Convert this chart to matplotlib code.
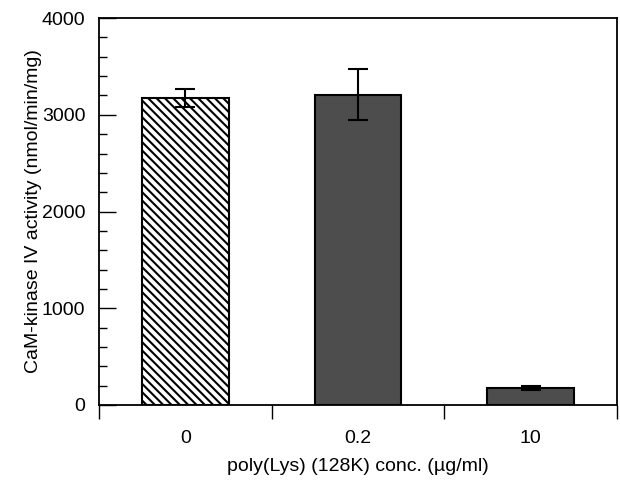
import numpy as np
import matplotlib.pyplot as plt
from matplotlib.ticker import MultipleLocator

plt.rcParams['font.family'] = ['Liberation Sans', 'DejaVu Sans']
plt.rcParams['hatch.linewidth'] = 1.5
plt.rcParams['hatch.color'] = '#3c3c3c'

# dados
categorias = ["0", "0.2", "10"]
atividade = [3175, 3210, 175]
erro = [93, 265, 25]
hachuras = ["\\\\\\\\", "", ""]
cores = ["white", "#4d4d4d", "#4d4d4d"]

fig = plt.figure(figsize=(6.2, 4.83), dpi=100)
ax = fig.add_axes([0.16, 0.1615, 0.835, 0.801])

x = np.arange(len(categorias))
for i in range(len(categorias)):
    ax.bar(x[i], atividade[i], width=0.5, color=cores[i], edgecolor="black",
           linewidth=1.5, hatch=hachuras[i], zorder=2)
ax.errorbar(x, atividade, yerr=erro, fmt="none", ecolor="black",
            elinewidth=1.5, capsize=7, capthick=1.5, zorder=3)

ax.set_xlim(-0.5, 2.5)
ax.set_ylim(0, 4000)
ax.set_xticks(x)
ax.set_xticklabels(categorias)
ax.set_xticks([-0.5, 0.5, 1.5, 2.5], minor=True)
ax.tick_params(axis="x", which="major", length=0, labelsize=14, pad=18)
ax.tick_params(axis="x", which="minor", direction="out", length=10, width=1)

ax.yaxis.set_major_locator(MultipleLocator(1000))
ax.yaxis.set_minor_locator(MultipleLocator(200))
ax.tick_params(axis="y", which="major", direction="in", length=12, width=1,
               labelsize=14, pad=10)
ax.tick_params(axis="y", which="minor", direction="in", length=6, width=1)

for s in ax.spines.values():
    s.set_linewidth(1.3)

ax.set_xlabel("poly(Lys) (128K) conc. (µg/ml)", fontsize=14, labelpad=8)
ax.set_ylabel("CaM-kinase IV activity (nmol/min/mg)", fontsize=14, labelpad=0)

fig.savefig("out.png", dpi=100)
